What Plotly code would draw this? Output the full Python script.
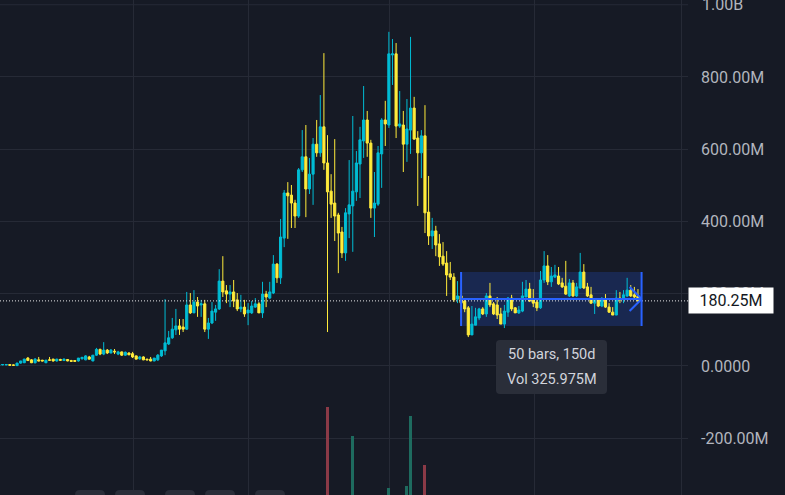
import plotly.graph_objects as go

# ---------------- data (values in millions) ----------------
opens = [2, 3, 3, 4, 3, 1, 8, 9, 22, 17, 9, 17, 16, 9, 17, 19, 14, 18, 15, 18,
         15, 15, 14, 20, 17, 25, 14, 30, 46, 33, 44, 36, 41, 33, 39, 30, 36, 34, 28, 20,
         25, 19, 19, 14, 17, 28, 42, 61, 78, 100, 111, 108, 102, 169, 147, 177, 169, 172, 102, 119,
         149, 158, 235, 208, 199, 205, 183, 158, 163, 147, 147, 163, 172, 147, 199, 188, 202, 282, 244, 354,
         479, 473, 451, 415, 543, 579, 490, 531, 614, 590, 662, 562, 484, 451, 418, 371, 313, 421, 443, 482,
         559, 623, 681, 617, 437, 448, 587, 681, 667, 861, 864, 664, 667, 614, 653, 714, 631, 590, 637, 426,
         360, 374, 338, 304, 285, 255, 246, 185, 194, 180, 161, 86, 113, 133, 158, 144, 194, 172, 169, 144,
         116, 149, 188, 161, 147, 152, 191, 213, 183, 177, 161, 238, 277, 233, 246, 249, 230, 221, 194, 230,
         194, 216, 260, 219, 197, 174, 183, 166, 183, 163, 149, 141, 188, 185, 194, 210, 197, 194]
highs = [4, 4, 5, 5, 4, 9, 14, 20, 25, 19, 22, 25, 17, 17, 25, 20, 20, 20, 21, 19,
         17, 16, 22, 25, 30, 28, 30, 50, 48, 66, 47, 47, 47, 42, 40, 40, 38, 39, 29, 28,
         27, 20, 25, 22, 33, 44, 185, 97, 133, 158, 130, 130, 205, 202, 210, 191, 183, 183, 133, 177,
         169, 268, 304, 224, 224, 238, 202, 197, 183, 174, 180, 188, 177, 233, 208, 233, 307, 285, 407, 487,
         509, 501, 460, 548, 653, 667, 576, 631, 681, 750, 866, 639, 531, 628, 424, 385, 437, 570, 692, 595,
         662, 775, 706, 626, 537, 609, 686, 734, 925, 905, 894, 761, 706, 739, 911, 745, 650, 653, 722, 526,
         410, 388, 365, 343, 318, 288, 257, 235, 210, 188, 166, 166, 161, 161, 163, 202, 230, 177, 191, 161,
         169, 191, 197, 163, 166, 233, 238, 230, 213, 183, 263, 318, 307, 274, 280, 274, 244, 291, 241, 238,
         230, 313, 282, 230, 219, 183, 188, 191, 199, 174, 163, 210, 205, 210, 244, 224, 219, 213]
lows = [1, 2, 2, 2, 1, 0, 6, 8, 14, 8, 7, 13, 13, 8, 14, 12, 12, 14, 14, 13,
        12, 12, 12, 18, 16, 18, 13, 28, 30, 30, 33, 35, 33, 30, 28, 28, 30, 22, 19, 17,
        16, 16, 13, 13, 14, 25, 30, 58, 75, 86, 86, 94, 100, 144, 147, 136, 136, 94, 75, 116,
        125, 155, 191, 174, 163, 163, 152, 149, 136, 113, 144, 161, 147, 133, 163, 185, 199, 230, 227, 329,
        352, 382, 382, 410, 537, 412, 476, 446, 579, 579, 543, 94, 410, 346, 257, 299, 291, 354, 316, 457,
        465, 576, 579, 410, 357, 443, 493, 609, 659, 778, 631, 659, 537, 565, 587, 626, 443, 520, 368, 335,
        324, 304, 277, 277, 194, 238, 177, 174, 147, 149, 80, 86, 113, 127, 141, 136, 163, 141, 130, 116,
        105, 136, 152, 147, 144, 149, 191, 177, 163, 152, 158, 230, 224, 219, 244, 224, 216, 197, 191, 191,
        191, 213, 213, 191, 172, 144, 163, 163, 161, 147, 141, 141, 174, 174, 191, 191, 183, 174]
closes = [3, 4, 4, 2, 2, 8, 14, 19, 15, 9, 19, 14, 14, 16, 16, 14, 19, 16, 19, 14,
          13, 13, 22, 24, 28, 19, 30, 46, 33, 44, 36, 44, 39, 39, 30, 38, 31, 25, 19, 25,
          17, 17, 14, 22, 30, 44, 64, 78, 102, 111, 102, 102, 169, 147, 177, 166, 172, 102, 119, 152,
          158, 235, 205, 199, 205, 180, 158, 163, 144, 155, 166, 172, 147, 199, 191, 205, 282, 244, 357, 479,
          471, 451, 415, 543, 579, 490, 531, 614, 590, 662, 562, 482, 448, 415, 368, 313, 424, 446, 484, 562,
          626, 681, 617, 437, 451, 590, 681, 670, 864, 864, 664, 670, 614, 656, 714, 628, 590, 637, 424, 360,
          374, 335, 302, 282, 252, 246, 183, 194, 174, 158, 86, 116, 136, 158, 144, 194, 169, 144, 141, 116,
          152, 188, 158, 147, 155, 194, 213, 180, 174, 161, 238, 277, 233, 249, 252, 227, 219, 199, 230, 194,
          219, 260, 216, 194, 174, 183, 166, 183, 163, 149, 141, 188, 183, 197, 210, 194, 191, 180.25]

bar_index = list(range(len(opens)))

# visible volume spikes (bar index, volume, direction)
vol_index = [91, 98, 108, 113, 114, 118]
vol_values = [178, 119, 14, 18, 160, 61]
vol_up = [False, True, True, True, True, False]

y_tick_vals = [-200, 0, 200, 400, 600, 800, 1000]
y_tick_text = ["-200.00M", "0.0000", "200.00M", "400.00M", "600.00M", "800.00M", "1.00B"]
x_grid_vals = [37.2, 69.1, 108.1, 148.3, 189.1]

last_price = 180.25
last_price_text = "180.25M"
range_start, range_end = 128, 178
range_low, range_high = 110.7, 260.2
tooltip_lines = ["50 bars, 150d", "Vol 325.975M"]
bottom_buttons = [(75, 105), (115, 145), (165, 195), (205, 235), (255, 285)]

# ---------------- styling ----------------
W, H = 785, 495
PLOT_W = 688
BG = "#161a25"
GRID = "#262a36"
UP = "#00bcd4"
DOWN = "#ffeb3b"
BLUE = "#2962ff"
FONT = "Roboto"
TICK_COLOR = "#b2b5be"


def pxx(p):
    return p / PLOT_W


def pxy(p):
    return 1 - p / H


def rounded_path(x0, y0, x1, y1, r):
    def P(x, y):
        return f"{pxx(x):.5f},{pxy(y):.5f}"
    return (f"M {P(x0 + r, y0)} L {P(x1 - r, y0)} Q {P(x1, y0)} {P(x1, y0 + r)} "
            f"L {P(x1, y1 - r)} Q {P(x1, y1)} {P(x1 - r, y1)} L {P(x0 + r, y1)} "
            f"Q {P(x0, y1)} {P(x0, y1 - r)} L {P(x0, y0 + r)} Q {P(x0, y0)} {P(x0 + r, y0)} Z")


fig = go.Figure()

fig.add_trace(go.Bar(
    x=vol_index, y=vol_values, yaxis="y2", width=0.55,
    marker=dict(color=["#1e6b5f" if u else "#8b3a47" for u in vol_up], line=dict(width=0)),
    hoverinfo="skip", showlegend=False,
))

fig.add_trace(go.Candlestick(
    x=bar_index, open=opens, high=highs, low=lows, close=closes,
    increasing=dict(line=dict(color=UP, width=1), fillcolor=UP),
    decreasing=dict(line=dict(color=DOWN, width=1), fillcolor=DOWN),
    whiskerwidth=0, showlegend=False,
))

shapes = []
# range-measure box
shapes.append(dict(type="rect", xref="x", yref="y", x0=range_start, x1=range_end,
                   y0=range_low, y1=range_high, fillcolor="rgba(41,98,255,0.2)",
                   line=dict(width=0), layer="between"))
# last price dotted line
shapes.append(dict(type="line", xref="paper", yref="y", x0=0, x1=1, y0=last_price, y1=last_price,
                   line=dict(color="#e8e8e8", width=1, dash="1px,2px"), layer="above"))
mid = (range_low + range_high) / 2
for xv in (range_start, range_end):
    shapes.append(dict(type="line", xref="x", yref="y", x0=xv, x1=xv, y0=range_low, y1=range_high,
                       line=dict(color=BLUE, width=2), layer="above"))
shapes.append(dict(type="line", xref="x", yref="y", x0=range_start, x1=range_end, y0=mid, y1=mid,
                   line=dict(color=BLUE, width=2), layer="above"))
for dy in (-33.2, 33.2):
    shapes.append(dict(type="line", xref="x", yref="y", x0=range_end - 3.32, x1=range_end,
                       y0=mid + dy, y1=mid, line=dict(color=BLUE, width=2), layer="above"))
# tooltip box
shapes.append(dict(type="path", xref="paper", yref="paper", path=rounded_path(496, 340, 607, 394, 4),
                   fillcolor="#2a2e39", line=dict(width=0), layer="above"))
# bottom toolbar buttons
for bx0, bx1 in bottom_buttons:
    shapes.append(dict(type="path", xref="paper", yref="paper",
                       path=rounded_path(bx0, 490, bx1, 505, 5),
                       fillcolor="#2a2e39", line=dict(width=0), layer="above"))

annotations = [
    dict(xref="paper", yref="paper", x=pxx(551.5), y=pxy(354), text=tooltip_lines[0],
         showarrow=False, font=dict(family=FONT, size=14.5, color="#d1d4dc"),
         xanchor="center", yanchor="middle"),
    dict(xref="paper", yref="paper", x=pxx(551.5), y=pxy(379), text=tooltip_lines[1],
         showarrow=False, font=dict(family=FONT, size=14.5, color="#d1d4dc"),
         xanchor="center", yanchor="middle"),
    # top tick label that sits partly above the plot edge
    dict(xref="paper", yref="y", x=1, xshift=12, y=y_tick_vals[-1], text=y_tick_text[-1],
         showarrow=False, xanchor="left", yanchor="middle",
         font=dict(family=FONT, size=16, color=TICK_COLOR)),
    dict(xref="paper", yref="y", x=1, y=last_price, text=last_price_text, showarrow=False,
         xanchor="left", yanchor="middle", bgcolor="#ffffff", borderpad=0, width=84, height=25,
         align="center", font=dict(family=FONT, size=16, color="#131722")),
]

fig.update_layout(
    width=W, height=H,
    margin=dict(l=0, r=W - PLOT_W, t=0, b=0),
    paper_bgcolor=BG, plot_bgcolor=BG,
    showlegend=False, boxgap=0.15, bargap=0,
    font=dict(family=FONT),
    xaxis=dict(range=[0.277, 190.86], showticklabels=False, tickvals=x_grid_vals,
               showgrid=True, gridcolor=GRID, gridwidth=1, zeroline=False,
               rangeslider=dict(visible=False), fixedrange=True, showline=False, ticks=""),
    yaxis=dict(range=[-357.1, 1013.1], side="right", tickvals=y_tick_vals[:-1],
               ticktext=y_tick_text[:-1],
               showgrid=True, gridcolor=GRID, gridwidth=1, zeroline=False, ticks="",
               ticklabelstandoff=12, automargin=False,
               tickfont=dict(family=FONT, size=16, color=TICK_COLOR), showline=False),
    yaxis2=dict(range=[0, 1000], overlaying="y", visible=False, fixedrange=True),
    shapes=shapes + [dict(type="line", xref="paper", yref="y", x0=0, x1=1,
                          y0=y_tick_vals[-1], y1=y_tick_vals[-1],
                          line=dict(color=GRID, width=1), layer="below")],
    annotations=annotations,
)

fig.write_html("out.html")
